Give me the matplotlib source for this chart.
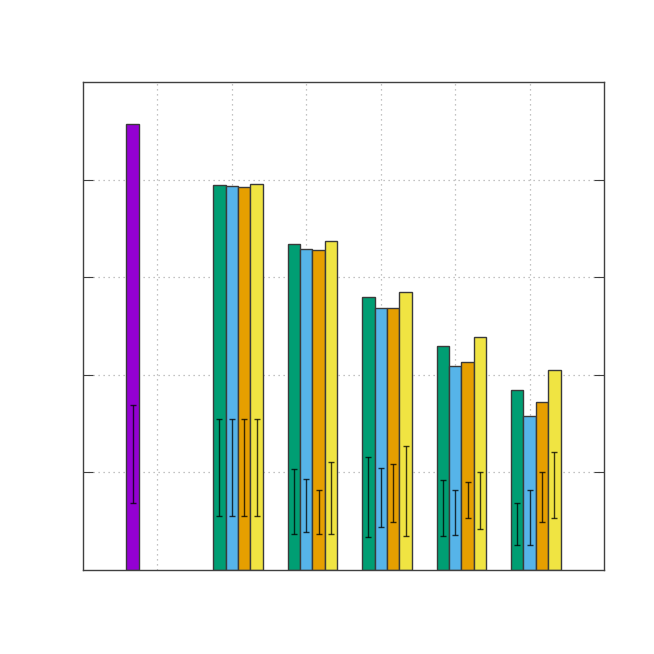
import numpy as np
import matplotlib.pyplot as plt

# single first bar
purple_val = 4.57
purple_lo, purple_hi = 0.685, 1.69

# grouped bars, groups at x = 2..6
groups = [2, 3, 4, 5, 6]
green = [3.94, 3.34, 2.80, 2.29, 1.84]
blue = [3.93, 3.29, 2.68, 2.09, 1.58]
orange = [3.92, 3.28, 2.68, 2.13, 1.72]
yellow = [3.95, 3.37, 2.85, 2.39, 2.05]

# error bar ranges (low, high)
green_lo = [0.556, 0.37, 0.335, 0.345, 0.26]
green_hi = [1.55, 1.03, 1.155, 0.92, 0.69]
blue_lo = [0.556, 0.386, 0.44, 0.355, 0.256]
blue_hi = [1.55, 0.935, 1.045, 0.82, 0.82]
orange_lo = [0.556, 0.37, 0.49, 0.53, 0.49]
orange_hi = [1.55, 0.82, 1.086, 0.905, 1.0]
yellow_lo = [0.556, 0.365, 0.345, 0.42, 0.536]
yellow_hi = [1.55, 1.11, 1.27, 1.0, 1.21]

w = 1 / 6
edge = '#3a3a3a'

fig = plt.figure(figsize=(6.54, 6.54), dpi=100)
ax = fig.add_axes([83 / 654, 84 / 654, 521 / 654, 488 / 654])

def draw(xs, vals, lo, hi, color):
    xs = np.asarray(xs, dtype=float)
    ax.bar(xs, vals, width=w, color=color, edgecolor=edge, linewidth=1.0, zorder=2)
    lo = np.asarray(lo)
    hi = np.asarray(hi)
    c = (lo + hi) / 2
    ax.errorbar(xs, c, yerr=(hi - lo) / 2, fmt='none', ecolor='black', elinewidth=1.0,
                capsize=2.3, capthick=1.0, alpha=0.75, zorder=3)

draw([2 / 3], [purple_val], [purple_lo], [purple_hi], '#9400d3')
g = np.array(groups, dtype=float)
draw(g - w, green, green_lo, green_hi, '#009e73')
draw(g, blue, blue_lo, blue_hi, '#56b4e9')
draw(g + w, orange, orange_lo, orange_hi, '#e69f00')
draw(g + 2 * w, yellow, yellow_lo, yellow_hi, '#f0e442')

ax.set_xlim(0, 7)
ax.set_ylim(0, 5)
ax.set_xticks(range(1, 7))
ax.set_yticks(range(1, 5))
ax.grid(True, color='#b0b0b0', linestyle=(0, (1, 3)), linewidth=0.9, zorder=0)
ax.set_axisbelow(True)
ax.tick_params(axis='x', length=0, labelbottom=False)
ax.tick_params(axis='y', direction='in', length=7, left=True, right=True,
               labelleft=False, color='#404040')
for s in ax.spines.values():
    s.set_color('#404040')
    s.set_linewidth(1.0)

fig.savefig('out.png', dpi=100)
